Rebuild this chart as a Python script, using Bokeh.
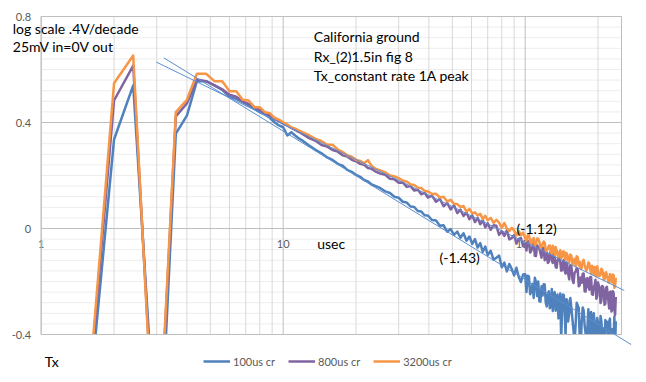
from bokeh.plotting import figure
from bokeh.models import Legend, LegendItem, ColumnDataSource
from bokeh.embed import file_html
from bokeh.resources import INLINE
from bokeh.core.properties import value

# ---------------- data ----------------
t_us = [1.6, 2.0, 2.4, 2.8, 3.2, 3.6, 4.0, 4.4, 4.8, 5.2, 5.6, 6.0, 6.4, 6.8, 7.2, 7.6, 8.0, 8.4, 8.8, 9.2,
        9.6, 10.0, 10.4, 10.8, 11.2, 11.6, 12.0,
        12.8, 13.6, 14.4, 15.2, 16.0, 16.8, 17.6, 18.4, 19.2, 20.0, 20.8, 21.6, 22.4, 23.2, 24.0,
        25.2, 26.4, 27.6, 28.8, 30.0, 31.2, 32.4, 33.6, 34.8, 36.0, 37.2, 38.4, 39.6,
        41.2, 42.8, 44.4, 46.0, 47.6, 49.2, 50.8, 52.4, 54.0, 55.6, 57.2, 58.8, 60.4, 62.0, 63.6, 65.2,
        66.8, 68.4, 70.0,
        72, 74, 76, 78, 80, 82, 84, 86, 88, 90, 92, 94, 96, 98, 100,
        101.2, 102.4, 103.6, 104.8, 106.0, 107.2, 108.4, 109.6, 110.8, 112.0, 113.2, 114.4, 115.6, 116.8,
        118.0, 119.2, 120.4, 121.6, 122.8, 124.0, 125.2, 126.4, 127.6, 128.8, 130.0, 131.2, 132.4, 133.6,
        134.8, 136.0, 137.2, 138.4, 139.6, 140.8, 142.0, 143.2, 144.4, 145.6, 146.8, 148.0, 149.2, 150.4,
        152.0, 153.6, 155.2, 156.8, 158.4, 160.0, 161.6, 163.2, 164.8, 166.4, 168.0, 169.6, 171.2, 172.8,
        174.4, 176.0, 177.6, 179.2, 180.8, 182.4, 184.0, 185.6, 187.2, 188.8, 190.4, 192.0, 193.6, 195.2,
        196.8, 198.4, 200.0, 201.6, 203.2, 204.8, 206.4, 208.0, 209.6, 211.2, 212.8, 214.4, 216.0, 217.6,
        219.2, 220.8, 222.4, 224.0, 225.6, 227.2, 228.8, 230.4, 232.0, 233.6, 235.2, 236.8]

y_100us_cr = [-0.60, 0.336, 0.540, -0.43, -0.60, 0.358, 0.426, 0.556, 0.556, 0.540, 0.523, 0.496, 0.489, 0.477,
              0.464, 0.452, 0.439, 0.430, 0.418, 0.401, 0.389, 0.382, 0.351, 0.363, 0.351, 0.340, 0.332,
              0.313, 0.297, 0.284, 0.268, 0.259, 0.244, 0.237, 0.221, 0.214, 0.202, 0.195, 0.183, 0.178, 0.166, 0.161,
              0.152, 0.140, 0.134, 0.120, 0.116, 0.101, 0.098, 0.083, 0.081, 0.066, 0.064, 0.050, 0.049,
              0.032, 0.030, 0.010, 0.012, -0.012, -0.002, -0.024, -0.012, -0.035, -0.018, -0.046, -0.030, -0.058,
              -0.040, -0.072, -0.055, -0.088, -0.068, -0.100,
              -0.084, -0.118, -0.110, -0.102, -0.146, -0.129, -0.162, -0.134, -0.153, -0.177, -0.148, -0.182,
              -0.202, -0.174, -0.173,
              -0.240, -0.178, -0.181, -0.248, -0.236, -0.209, -0.262, -0.186, -0.202, -0.255, -0.200, -0.275,
              -0.276, -0.218, -0.253, -0.210, -0.211, -0.280, -0.294, -0.249, -0.237, -0.301, -0.291, -0.228,
              -0.311, -0.256, -0.240, -0.310, -0.265, -0.249, -0.339, -0.301, -0.245, -0.415, -0.322, -0.249,
              -0.251, -0.303, -0.405, -0.267, -0.269, -0.351,
              -0.320, -0.262, -0.300, -0.345, -0.385, -0.430, -0.360, -0.280, -0.290, -0.300, -0.410, -0.455,
              -0.350, -0.298, -0.310, -0.365, -0.395, -0.440, -0.375, -0.305, -0.450, -0.330, -0.315, -0.470,
              -0.380, -0.320, -0.355, -0.410, -0.430, -0.338, -0.360, -0.450, -0.400, -0.330, -0.350, -0.395,
              -0.375, -0.460, -0.440, -0.345, -0.360, -0.352, -0.395, -0.470, -0.350, -0.340, -0.445, -0.420,
              -0.380, -0.465, -0.410, -0.332, -0.455, -0.350]

y_800us_cr = [-0.55, 0.483, 0.615, -0.48, -0.50, 0.423, 0.472, 0.562, 0.556, 0.540, 0.525, 0.505, 0.497, 0.480,
              0.470, 0.458, 0.448, 0.435, 0.426, 0.413, 0.405, 0.396, 0.388, 0.380, 0.372, 0.365, 0.357,
              0.341, 0.331, 0.315, 0.309, 0.296, 0.290, 0.276, 0.272, 0.259, 0.254, 0.244, 0.240, 0.228, 0.225, 0.216,
              0.207, 0.203, 0.188, 0.186, 0.173, 0.174, 0.157, 0.160, 0.143, 0.146, 0.129, 0.135, 0.117,
              0.124, 0.101, 0.112, 0.084, 0.097, 0.072, 0.088, 0.058, 0.071, 0.047, 0.060, 0.035, 0.050, 0.024,
              0.040, 0.016, 0.031, 0.004, 0.020,
              -0.005, 0.012, 0.010, -0.024, -0.010, -0.028, -0.007, -0.041, -0.036, -0.025, -0.057, -0.039,
              -0.036, -0.067, -0.055,
              -0.083, -0.047, -0.049, -0.091, -0.084, -0.068, -0.054, -0.103, -0.104, -0.063, -0.071, -0.077,
              -0.093, -0.110, -0.074, -0.072, -0.120, -0.112, -0.092, -0.130, -0.125, -0.094, -0.087, -0.121,
              -0.130, -0.095, -0.111, -0.145, -0.148, -0.120, -0.111, -0.110, -0.126, -0.159, -0.157, -0.125,
              -0.119, -0.160, -0.170, -0.128, -0.134, -0.169,
              -0.192, -0.139, -0.143, -0.194, -0.206, -0.166, -0.163, -0.149, -0.154, -0.218, -0.214, -0.185,
              -0.205, -0.171, -0.170, -0.237, -0.238, -0.189, -0.187, -0.221, -0.231, -0.183, -0.183, -0.248,
              -0.250, -0.220, -0.214, -0.193, -0.265, -0.254, -0.204, -0.216, -0.223, -0.281, -0.273, -0.217,
              -0.220, -0.238, -0.288, -0.284, -0.224, -0.220, -0.250, -0.275, -0.302, -0.239, -0.238, -0.313,
              -0.306, -0.237, -0.243, -0.305, -0.326, -0.258]

y_3200us_cr = [-0.53, 0.548, 0.653, -0.51, -0.48, 0.439, 0.486, 0.584, 0.584, 0.556, 0.556, 0.518, 0.518, 0.486,
               0.483, 0.458, 0.458, 0.439, 0.435, 0.418, 0.411, 0.401, 0.392, 0.382, 0.377, 0.370, 0.364,
               0.352, 0.338, 0.330, 0.316, 0.316, 0.298, 0.289, 0.276, 0.271, 0.259, 0.255, 0.246, 0.258, 0.236, 0.226,
               0.219, 0.212, 0.200, 0.197, 0.190, 0.181, 0.177, 0.166, 0.164, 0.154, 0.153, 0.142, 0.140,
               0.130, 0.131, 0.117, 0.120, 0.102, 0.108, 0.093, 0.092, 0.081, 0.085, 0.064, 0.074, 0.057, 0.061,
               0.049, 0.055, 0.036, 0.048, 0.031,
               0.040, 0.021, 0.033, 0.022, 0.002, 0.021, 0.000, -0.010, 0.003, -0.008, -0.026, -0.009, -0.025,
               -0.015, -0.037,
               -0.045, -0.025, -0.023, -0.051, -0.058, -0.040, -0.036, -0.064, -0.058, -0.038, -0.039, -0.050,
               -0.071, -0.070, -0.058, -0.049, -0.054, -0.082, -0.085, -0.076, -0.065, -0.064, -0.089, -0.095,
               -0.065, -0.075, -0.099, -0.070, -0.082, -0.100, -0.108, -0.090, -0.082, -0.112, -0.107, -0.088,
               -0.087, -0.109, -0.117, -0.092, -0.098, -0.121,
               -0.127, -0.098, -0.103, -0.135, -0.125, -0.114, -0.141, -0.105, -0.109, -0.140, -0.126, -0.152,
               -0.149, -0.125, -0.118, -0.137, -0.151, -0.159, -0.148, -0.128, -0.132, -0.155, -0.169, -0.141,
               -0.146, -0.175, -0.145, -0.151, -0.181, -0.142, -0.158, -0.179, -0.179, -0.173, -0.152, -0.156,
               -0.170, -0.192, -0.193, -0.168, -0.165, -0.177, -0.190, -0.203, -0.204, -0.172, -0.176, -0.197,
               -0.204, -0.174, -0.177, -0.224, -0.218, -0.185]

# power-law trend lines (endpoints)
trend_143_x = [3.21, 274.0]
trend_143_y = [0.644, -0.438]
trend_112_x = [2.99, 256.6]
trend_112_y = [0.628, -0.234]

series_names = ["100us cr", "800us cr", "3200us cr"]
x_ticks = [1, 10, 100]
x_tick_labels = ["1", "10", "100"]
x_minor = [2, 3, 4, 5, 6, 7, 8, 9, 20, 30, 40, 50, 60, 70, 80, 90, 200]
y_ticks = [-0.4, 0, 0.4, 0.8]
y_tick_labels = ["-0.4", "0", "0.4", "0.8"]
X_MIN, X_MAX, Y_MIN, Y_MAX = 1, 250, -0.4, 0.8

# ---------------- layout / styling ----------------
BLUE, PURPLE, ORANGE = "#4F81BD", "#8064A2", "#F79646"
TREND = "#5B8FD0"
GRAY_TXT = "#595959"
FONT = "Lato"

W, H = 640, 376
PX_LEFT, PX_PER_DEC = 40.7, 242.0      # pixel of x=1, pixels per decade
PY_TOP, PX_PER_UNIT = 16.0, 265.0      # pixel of y=0.8, pixels per unit of y
x_rng = (10 ** (-PX_LEFT / PX_PER_DEC), 10 ** ((W - PX_LEFT) / PX_PER_DEC))
y_rng = (Y_MAX - (H - PY_TOP) / PX_PER_UNIT, Y_MAX + PY_TOP / PX_PER_UNIT)

p = figure(width=W, height=H, x_axis_type="log", x_range=x_rng, y_range=y_rng,
           x_axis_location=None, y_axis_location=None, min_border=0,
           output_backend="svg", toolbar_location=None)
p.grid.visible = False
p.outline_line_color = None
p.background_fill_color = "white"
p.border_fill_color = "white"

y_minor = [round(Y_MIN + 0.04 * i, 2) for i in range(31) if i % 10 != 0]

# grid of the plot area
p.segment(x0=[X_MIN] * len(y_minor), x1=[X_MAX] * len(y_minor), y0=y_minor, y1=y_minor,
          line_color="#EDEDED", line_width=1)
p.segment(x0=x_minor, x1=x_minor, y0=[Y_MIN] * len(x_minor), y1=[Y_MAX] * len(x_minor),
          line_color="#D9D9D9", line_width=1)
p.segment(x0=x_ticks, x1=x_ticks, y0=[Y_MIN] * 3, y1=[Y_MAX] * 3, line_color="#BFBFBF", line_width=1)
p.segment(x0=[X_MIN] * 4, x1=[X_MAX] * 4, y0=y_ticks, y1=y_ticks, line_color="#BFBFBF", line_width=1)

# x tick labels sit on the y=0 axis line, under the data
p.text(x=x_ticks, y=[-0.06] * 3, text=x_tick_labels, text_align="center", text_baseline="middle",
       text_font=value(FONT), text_font_size="11px", text_color=GRAY_TXT)

src = ColumnDataSource(dict(t=t_us, a=y_100us_cr, b=y_800us_cr, c=y_3200us_cr))
r_a = p.line("t", "a", source=src, line_color=BLUE, line_width=2.5, line_join="round")
r_b = p.line("t", "b", source=src, line_color=PURPLE, line_width=2.5, line_join="round")
r_c = p.line("t", "c", source=src, line_color=ORANGE, line_width=2.5, line_join="round")

# white mask: the series are cut at the bottom of the plot area
p.quad(left=[x_rng[0]], right=[x_rng[1]], bottom=[y_rng[0]], top=[Y_MIN], fill_color="white", line_color=None)
p.quad(left=[X_MIN], right=[X_MAX], bottom=[Y_MIN], top=[Y_MAX], fill_color=None, line_color="#BFBFBF")

# trend lines (Excel draws them past the plot area)
p.line(trend_143_x, trend_143_y, line_color=TREND, line_width=1)
p.line(trend_112_x, trend_112_y, line_color=TREND, line_width=1)

# y tick labels
x_ylab = 10 ** ((30.7 - PX_LEFT) / PX_PER_DEC)
p.text(x=[x_ylab] * 4, y=y_ticks, text=y_tick_labels, text_align="right", text_baseline="middle",
       text_font=value(FONT), text_font_size="11px", text_color=GRAY_TXT)

notes_text = ["log scale .4V/decade", "25mV in=0V out", "California ground", "Rx_(2)1.5in fig 8",
              "Tx_constant rate 1A peak", "usec", "(-1.43)", "(-1.12)", "Tx"]
notes_x = [0.763, 0.763, 13.38, 13.38, 13.38, 13.82, 44.25, 92.0, 1.035]
notes_y = [0.754, 0.687, 0.725, 0.649, 0.577, -0.055, -0.111, -0.001, -0.502]
p.text(x=notes_x, y=notes_y, text=notes_text, text_align="left", text_baseline="middle",
       text_font=value(FONT), text_font_size="14px", text_color="black")

legend = Legend(items=[LegendItem(label=n, renderers=[r]) for n, r in zip(series_names, [r_a, r_b, r_c])],
                orientation="horizontal", location=(203, 5), padding=0, margin=0, spacing=13,
                glyph_width=27, glyph_height=20, label_standoff=3, label_height=20,
                label_text_font=FONT, label_text_font_size="11px", label_text_color=GRAY_TXT,
                border_line_color=None, background_fill_alpha=0)
p.add_layout(legend)

open("out.html", "w").write(file_html(p, INLINE))
